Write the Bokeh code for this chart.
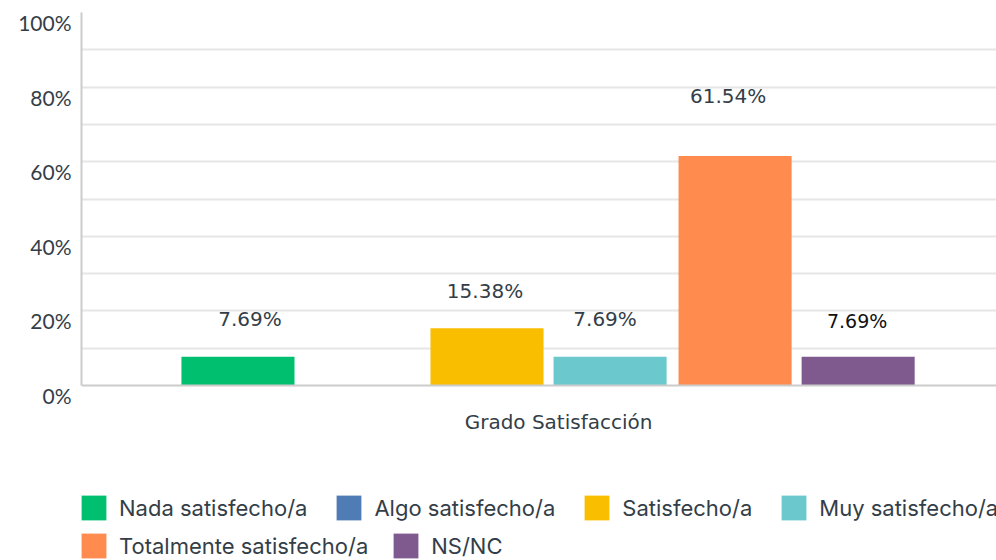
from bokeh.plotting import figure
from bokeh.layouts import column
from bokeh.models import (ColumnDataSource, Range1d, FixedTicker, Legend, LegendItem,
                          LinearAxis, Span)
from bokeh.core.properties import value
from bokeh.embed import file_html
from bokeh.resources import INLINE

# ---- data ----
category = "Grado Satisfacción"
series = ["Nada satisfecho/a", "Algo satisfecho/a", "Satisfecho/a",
          "Muy satisfecho/a", "Totalmente satisfecho/a", "NS/NC"]
values = [7.69, 0.0, 15.38, 7.69, 61.54, 7.69]
value_labels = ["7.69%", "", "15.38%", "7.69%", "61.54%", "7.69%"]
y_ticks = [0, 20, 40, 60, 80, 100]
y_tick_labels = ["0%", "20%", "40%", "60%", "80%", "100%"]

# ---- style ----
colors = ["#00bf6f", "#507cb6", "#f9be00", "#6bc8cd", "#ff8b4f", "#7f5a8f"]
dodge = [-0.336, -0.205, -0.075, 0.054, 0.185, 0.314]
bar_w = 0.1185
lab_dx = [12, 0, -2, -5, -7, -1]
lab_dy = [-38, 0, -37, -38, -60, -36]
TXT = "#333e48"
SHIFT = 2.68  # y tick labels hang just below their grid line (~10px)

p = figure(width=996, height=470, output_backend="svg", toolbar_location=None,
           x_range=Range1d(-0.5, 0.459), y_range=Range1d(-SHIFT, 100),
           min_border_left=81, min_border_right=0, min_border_top=12,
           min_border_bottom=75)
p.outline_line_color = None
p.background_fill_color = "white"
p.border_fill_color = "white"
p.extra_y_ranges = {"lab": Range1d(0, 100 + SHIFT)}

renderers = []
for i, name in enumerate(series):
    src = ColumnDataSource(dict(x=[0 + dodge[i]], top=[values[i]]))
    r = p.vbar(x="x", top="top", bottom=0, width=bar_w, source=src,
               fill_color=colors[i], line_color=None)
    renderers.append(r)

# data labels
main_idx = [0, 2, 3, 4]
lsrc = ColumnDataSource(dict(
    x=[dodge[i] for i in main_idx], y=[values[i] for i in main_idx],
    t=[value_labels[i] for i in main_idx],
    dx=[lab_dx[i] for i in main_idx], dy=[lab_dy[i] for i in main_idx]))
p.text(x="x", y="y", text="t", x_offset="dx", y_offset="dy", source=lsrc,
       text_align="center", text_baseline="middle",
       text_font=value("DejaVu Sans"), text_font_size="20px", text_color=TXT)
psrc = ColumnDataSource(dict(x=[dodge[5]], y=[values[5]], t=[value_labels[5]],
                             dx=[lab_dx[5]], dy=[lab_dy[5]]))
p.text(x="x", y="y", text="t", x_offset="dx", y_offset="dy", source=psrc,
       text_align="center", text_baseline="middle",
       text_font=value("DejaVu Sans"), text_font_size="19px", text_color="#111111")

# baseline (x axis line) at 0
p.add_layout(Span(location=0, dimension="width", line_color="#cccccc", line_width=2))

# main y axis: line only, from 0 to 100
p.yaxis.ticker = FixedTicker(ticks=[])
p.yaxis.bounds = (0, 100)
p.yaxis.major_label_standoff = 0
p.yaxis.major_tick_line_color = None
p.yaxis.major_tick_out = 0
p.yaxis.major_tick_in = 0
p.yaxis.minor_tick_line_color = None
p.yaxis.minor_tick_out = 0
p.yaxis.axis_line_color = "#cccccc"
p.yaxis.axis_line_width = 2

# label axis (shifted so the labels hang just below each grid line)
lab_axis = LinearAxis(y_range_name="lab", ticker=FixedTicker(ticks=y_ticks),
                      major_label_overrides={t: l for t, l in zip(y_ticks, y_tick_labels)},
                      major_label_text_font="Lato", major_label_text_font_size="21px",
                      major_label_text_color=TXT, major_label_standoff=10,
                      axis_line_color=None, major_tick_line_color=None,
                      minor_tick_line_color=None, major_tick_out=0, major_tick_in=0,
                      minor_tick_out=0)
p.add_layout(lab_axis, "left")

p.xaxis.ticker = FixedTicker(ticks=[0])
p.xaxis.major_label_overrides = {0: category}
p.xaxis.major_label_text_font = "DejaVu Sans"
p.xaxis.major_label_text_font_size = "20px"
p.xaxis.major_label_text_color = TXT
p.xaxis.major_label_standoff = 14
p.xaxis.major_tick_line_color = None
p.xaxis.major_tick_out = 0
p.xaxis.minor_tick_line_color = None
p.xaxis.axis_line_color = None

p.xgrid.grid_line_color = None
p.ygrid.ticker = FixedTicker(ticks=[10, 20, 30, 40, 50, 60, 70, 80, 90])
p.ygrid.grid_line_color = "#e6e6e6"
p.ygrid.grid_line_width = 2

# ---- legend strip ----
lp = figure(width=996, height=90, output_backend="svg", toolbar_location=None,
            x_range=Range1d(0, 1), y_range=Range1d(0, 1),
            min_border_left=0, min_border_right=0, min_border_top=0, min_border_bottom=0)
lp.axis.visible = False
lp.grid.visible = False
lp.outline_line_color = None
lp.border_fill_color = "white"

leg_renderers = []
for i, name in enumerate(series):
    # one point far outside the visible range: only its legend swatch is seen
    r = lp.vbar(x=[5], top=[1], width=0.1, fill_color=colors[i], line_color=None)
    leg_renderers.append(r)


def make_legend(idx, loc, spacing):
    return Legend(items=[LegendItem(label=series[i], renderers=[leg_renderers[i]]) for i in idx],
                  location=loc, orientation="horizontal",
                  glyph_width=31, glyph_height=31, label_standoff=10, spacing=spacing,
                  padding=0, margin=0, border_line_color=None,
                  background_fill_alpha=0,
                  label_text_font="Inter", label_text_font_size="22px",
                  label_text_color=TXT, label_height=31)


lp.add_layout(make_legend([0, 1, 2, 3], (-3, 37), 26))
lp.add_layout(make_legend([4, 5], (-3, -1), 22))

layout = column(p, lp, spacing=0)
open("out.html", "w").write(file_html(layout, INLINE))
